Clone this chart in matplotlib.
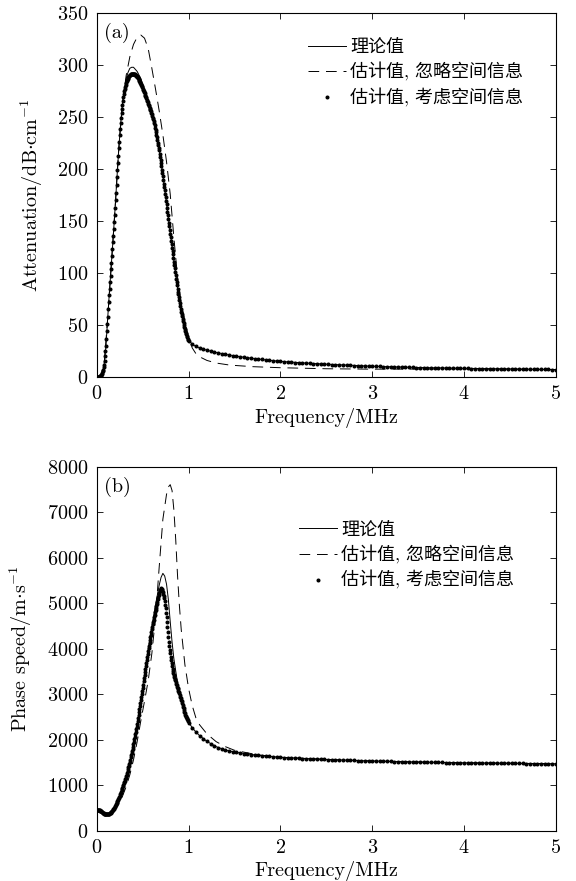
"""
Attenuation and phase speed vs frequency: theory against two estimates.
Two stacked panels, MATLAB-style box axes with inward ticks.
"""

import numpy as np
import matplotlib
matplotlib.use("Agg")
import matplotlib.pyplot as plt


# ─── Fonts ────────────────────────────────────────────────────────────────────

plt.rcParams["font.family"] = ["cmr10", "Noto Sans CJK SC"]
plt.rcParams["mathtext.fontset"] = "cm"
plt.rcParams["axes.formatter.use_mathtext"] = True


# ─── Legend labels ────────────────────────────────────────────────────────────

LABEL_THEORY = "理论值"
LABEL_IGNORE = "估计值, 忽略空间信息"
LABEL_SPATIAL = "估计值, 考虑空间信息"


# ─── Panel (a): attenuation, dB/cm ───────────────────────────────────────────

ATTEN_THEORY_FREQ = [0, 0.02, 0.04, 0.06, 0.08, 0.10, 0.12, 0.14, 0.16, 0.18,
                     0.20, 0.22, 0.24, 0.26, 0.28, 0.30, 0.32, 0.34, 0.36, 0.38,
                     0.40, 0.42, 0.44, 0.48, 0.52, 0.56, 0.60, 0.64, 0.68, 0.72,
                     0.76, 0.80, 0.84, 0.88, 0.92, 0.96, 1.00, 1.04, 1.08, 1.12,
                     1.20, 1.30, 1.40, 1.50, 1.60, 1.80, 2.00, 2.25, 2.50, 2.75,
                     3.00, 3.50, 4.00, 4.50, 5.00]
ATTEN_THEORY = [0, 0.3, 1, 4, 12, 30, 58, 85, 110, 136,
                163, 192, 220, 244, 263, 277, 287, 293, 297, 298,
                298, 296, 294, 287, 277, 266, 255, 240, 219, 194,
                167, 139, 112, 86, 64, 47, 36, 31.5, 29.5, 28,
                25.8, 23.7, 21.9, 20.4, 19.1, 16.9, 15.1, 13.6, 12.4, 11.4,
                10.4, 9.2, 8.4, 7.8, 7.2]

ATTEN_IGNORE_FREQ = [0, 0.04, 0.08, 0.12, 0.16, 0.20, 0.24, 0.28, 0.32, 0.36,
                     0.40, 0.44, 0.48, 0.52, 0.56, 0.60, 0.64, 0.68, 0.72, 0.76,
                     0.80, 0.84, 0.88, 0.92, 0.96, 1.00, 1.04, 1.08, 1.12, 1.20,
                     1.30, 1.45, 1.70, 2.00, 2.50, 3.00, 3.50, 4.00, 4.50, 5.00]
ATTEN_IGNORE = [0, 1, 12, 58, 110, 163, 220, 263, 290, 308,
                320, 327, 329, 326, 316, 297, 277, 256, 233, 207,
                176, 134, 96, 71, 54, 38, 28, 22.5, 19.5, 16,
                13.5, 11.5, 10, 9, 8, 7.6, 7.7, 7.9, 7.6, 7.1]

# estimate with spatial info, sampled every 0.005 MHz up to 1 MHz ...
ATTEN_SPATIAL_FINE = [
    0, 0.05, 0.1, 0.2, 0.3, 0.45, 0.6, 0.8, 1, 1.4,
    2, 2.9, 4, 5.4, 7, 9.3, 12, 15.8, 20, 24.8,
    30, 37, 44, 51, 58, 65, 72, 78.5, 85, 91,
    97, 103.5, 110, 116.5, 123, 129.5, 136, 142.5, 149, 156,
    163, 170, 177, 184.5, 192, 199, 206, 213, 220, 226.5,
    233, 238.5, 244, 249, 254, 258, 262, 265.5, 269, 272,
    275, 277, 279, 281, 283, 284.5, 286, 287, 288, 288.8,
    289.5, 290, 290.5, 291, 291.5, 291.8, 292, 292, 292, 292,
    292, 291.8, 291.5, 291.3, 291, 290.5, 290, 289.5, 289, 288.3,
    287.5, 286.8, 286, 285, 284, 283, 282, 281, 280, 278.8,
    277.5, 276.3, 275, 274, 273, 271.8, 270.5, 269.3, 268, 266.8,
    265.5, 264.3, 263, 261.8, 260.5, 259.3, 258, 256.8, 255.5, 254.3,
    253, 251.3, 249.5, 247.8, 246, 244, 242, 240, 238, 235.5,
    233, 230.5, 228, 225.5, 223, 220.5, 218, 215, 212, 209,
    206, 202.8, 199.5, 196.3, 193, 189.5, 186, 182.8, 179.5, 176.3,
    173, 169.5, 166, 162.5, 159, 155.5, 152, 148.5, 145, 141.5,
    138, 134.5, 131, 127.8, 124.5, 121.3, 118, 114.5, 111, 107.8,
    104.5, 101.3, 98, 94.8, 91.5, 88.3, 85, 82.3, 79.5, 76.8,
    74, 71.3, 68.5, 65.8, 63, 60.8, 58.5, 56.3, 54, 52,
    50, 48, 46, 44.3, 42.5, 41, 39.5, 38.3, 37, 36,
    35,
]
# ... then every 0.04 MHz from 1.04 to 5 MHz
ATTEN_SPATIAL_TAIL = [
    31.5, 29.5, 28, 26.8, 25.8, 24.9, 24.1, 23.3, 22.6, 21.9,
    21.3, 20.7, 20.1, 19.6, 19.1, 18.6, 18.1, 17.7, 17.3, 16.9,
    16.5, 16.1, 15.8, 15.4, 15.1,
    14.8, 14.5, 14.3, 14.0, 13.8, 13.5, 13.3, 13.1, 12.9, 12.7,
    12.5, 12.3, 12.1, 12.0, 11.8, 11.6, 11.5, 11.3, 11.2, 11.0,
    10.9, 10.8, 10.6, 10.5, 10.4,
    10.3, 10.2, 10.1, 10.0, 9.9, 9.8, 9.7, 9.6, 9.5, 9.4,
    9.3, 9.2, 9.2, 9.1, 9.0, 8.9, 8.9, 8.8, 8.7, 8.7,
    8.6, 8.5, 8.5, 8.4, 8.4,
    8.3, 8.2, 8.2, 8.1, 8.1, 8.0, 8.0, 7.9, 7.9, 7.8,
    7.8, 7.7, 7.7, 7.6, 7.6, 7.6, 7.5, 7.5, 7.4, 7.4,
    7.4, 7.3, 7.3, 7.2, 7.2,
]


# ─── Panel (b): phase speed, m/s ─────────────────────────────────────────────

SPEED_THEORY_FREQ = [0, 0.04, 0.08, 0.10, 0.12, 0.16, 0.20, 0.24, 0.28, 0.32,
                     0.36, 0.40, 0.44, 0.48, 0.52, 0.56, 0.60, 0.64, 0.68, 0.70,
                     0.72, 0.74, 0.76, 0.78, 0.80, 0.82, 0.84, 0.88, 0.92, 0.96,
                     1.00, 1.04, 1.08, 1.12, 1.20, 1.30, 1.40, 1.50, 1.75, 2.00,
                     2.50, 3.00, 3.50, 4.00, 4.50, 5.00]
SPEED_THEORY = [460, 440, 378, 362, 362, 420, 540, 720, 950, 1200,
                1520, 1900, 2350, 2880, 3450, 4000, 4500, 4970, 5400, 5570,
                5660, 5600, 5420, 5080, 4600, 4150, 3780, 3250, 2880, 2600,
                2390, 2265, 2172, 2092, 1965, 1850, 1775, 1730, 1660, 1616,
                1568, 1534, 1511, 1494, 1484, 1474]

SPEED_IGNORE_FREQ = [0, 0.04, 0.08, 0.12, 0.16, 0.20, 0.24, 0.28, 0.32, 0.36,
                     0.40, 0.44, 0.48, 0.52, 0.56, 0.60, 0.64, 0.68, 0.72, 0.76,
                     0.78, 0.80, 0.82, 0.84, 0.86, 0.88, 0.90, 0.92, 0.96, 1.00,
                     1.04, 1.08, 1.12, 1.20, 1.30, 1.40, 1.50, 1.75, 2.00, 2.50,
                     3.00, 3.50, 4.00, 4.50, 5.00]
SPEED_IGNORE = [460, 440, 380, 360, 390, 470, 590, 760, 970, 1230,
                1560, 1960, 2420, 2850, 3300, 3900, 4700, 5800, 6850, 7400,
                7560, 7610, 7480, 7050, 6400, 5600, 4950, 4420, 3650, 3130,
                2750, 2480, 2330, 2130, 1960, 1850, 1770, 1670, 1615, 1568,
                1534, 1511, 1494, 1484, 1474]

SPEED_SPATIAL_FINE = [
    460, 459, 458, 456.5, 455, 452, 449, 445, 440, 434,
    428, 419, 410, 401, 393, 385, 378, 372, 367, 364,
    362, 361, 360, 360.5, 362, 365.5, 370, 376, 383, 391,
    400, 410, 420, 432, 445, 458, 472, 488, 504, 522,
    540, 560, 580, 601, 623, 646, 670, 695, 720, 747,
    775, 803, 832, 861, 890, 920, 950, 980, 1010, 1040,
    1070, 1102, 1135, 1167, 1200, 1237, 1275, 1312, 1350, 1392,
    1435, 1477, 1520, 1566, 1612, 1658, 1705, 1752, 1800, 1850,
    1900, 1955, 2010, 2065, 2120, 2177, 2235, 2292, 2350, 2414,
    2478, 2543, 2608, 2674, 2740, 2805, 2870, 2939, 3008, 3076,
    3145, 3214, 3283, 3351, 3420, 3487, 3555, 3621, 3688, 3754,
    3820, 3885, 3950, 4011, 4072, 4132, 4192, 4252, 4312, 4371,
    4430, 4484, 4538, 4591, 4645, 4697, 4750, 4800, 4850, 4897,
    4945, 4993, 5040, 5090, 5140, 5185, 5230, 5265, 5300, 5318,
    5330, 5325, 5310, 5285, 5250, 5210, 5165, 5110, 5050, 4973,
    4890, 4797, 4700, 4592, 4480, 4365, 4250, 4155, 4060, 3980,
    3900, 3828, 3755, 3688, 3620, 3568, 3515, 3468, 3420, 3380,
    3340, 3305, 3270, 3237, 3203, 3172, 3140, 3110, 3080, 3050,
    3020, 2985, 2950, 2915, 2880, 2843, 2805, 2768, 2730, 2693,
    2655, 2620, 2585, 2556, 2527, 2500, 2473, 2449, 2425, 2403,
    2380,
]
SPEED_SPATIAL_TAIL = [
    2260, 2170, 2090, 2025, 1965, 1910, 1865, 1830, 1800, 1775,
    1755, 1738, 1722, 1708, 1695, 1684, 1674, 1665, 1656, 1648,
    1641, 1634, 1628, 1622, 1616,
    1611, 1606, 1601, 1597, 1593, 1589, 1585, 1581, 1578, 1574,
    1571, 1568, 1565, 1562, 1559, 1556, 1553, 1551, 1548, 1546,
    1543, 1541, 1539, 1536, 1534,
    1532, 1530, 1528, 1526, 1524, 1522, 1521, 1519, 1517, 1515,
    1514, 1512, 1511, 1509, 1508, 1506, 1505, 1503, 1502, 1501,
    1499, 1498, 1497, 1496, 1494,
    1493, 1492, 1491, 1490, 1489, 1488, 1487, 1486, 1485, 1484,
    1484, 1483, 1482, 1481, 1480, 1480, 1479, 1478, 1478, 1477,
    1476, 1476, 1475, 1475, 1474,
]

FINE_STEP = 0.005  # MHz, dotted samples up to 1 MHz
TAIL_STEP = 0.04   # MHz, dotted samples above 1 MHz


def dot_freqs(fine, tail):
    """Frequencies of the dotted estimate: fine grid to 1 MHz, coarse after."""
    f_fine = np.arange(len(fine)) * FINE_STEP
    f_tail = f_fine[-1] + np.arange(1, len(tail) + 1) * TAIL_STEP
    return np.concatenate([f_fine, f_tail])


# ─── Plotting ─────────────────────────────────────────────────────────────────

def draw_panel(ax, f_th, y_th, f_ig, y_ig, fine, tail, ylim, yticks,
               ylabel, tag, legend_anchor):
    ax.plot(f_th, y_th, color="black", linewidth=0.7, label=LABEL_THEORY)
    ax.plot(f_ig, y_ig, color="black", linewidth=0.7, dashes=(11, 7),
            label=LABEL_IGNORE)
    ax.plot(dot_freqs(fine, tail), np.concatenate([fine, tail]),
            linestyle="none", marker=".", markersize=3.8, color="black",
            label=LABEL_SPATIAL)

    ax.set_xlim(0, 5)
    ax.set_ylim(*ylim)
    ax.set_xticks([0, 1, 2, 3, 4, 5])
    ax.set_yticks(yticks)
    ax.tick_params(direction="in", top=True, right=True, length=4,
                   width=0.6, labelsize=14.5, pad=6)
    for sp in ax.spines.values():
        sp.set_linewidth(0.8)

    ax.set_xlabel("Frequency/MHz", fontsize=14.5, labelpad=3)
    ax.set_ylabel(ylabel, fontsize=14.5, labelpad=9)
    ax.text(0.015, 0.945, tag, transform=ax.transAxes, fontsize=14.5,
            ha="left", va="center")

    ax.legend(loc="upper left", bbox_to_anchor=legend_anchor, frameon=False,
              borderpad=0, borderaxespad=0, handlelength=2.1,
              handletextpad=0.25, labelspacing=0.38, numpoints=1,
              prop={"family": ["cmr10", "Noto Sans CJK SC"], "size": 13})


fig = plt.figure(figsize=(5.76, 8.81), dpi=100)
ax_a = fig.add_axes([0.168, 0.572, 0.797, 0.413])
ax_b = fig.add_axes([0.168, 0.057, 0.797, 0.413])

draw_panel(ax_a, ATTEN_THEORY_FREQ, ATTEN_THEORY,
           ATTEN_IGNORE_FREQ, ATTEN_IGNORE,
           ATTEN_SPATIAL_FINE, ATTEN_SPATIAL_TAIL,
           (0, 350), range(0, 351, 50),
           r"Attenuation/dB$\cdot$cm$^{-1}$", "(a)", (0.46, 0.93))

draw_panel(ax_b, SPEED_THEORY_FREQ, SPEED_THEORY,
           SPEED_IGNORE_FREQ, SPEED_IGNORE,
           SPEED_SPATIAL_FINE, SPEED_SPATIAL_TAIL,
           (0, 8000), range(0, 8001, 1000),
           r"Phase speed/m$\cdot$s$^{-1}$", "(b)", (0.44, 0.85))

fig.savefig("out.png", dpi=100)
